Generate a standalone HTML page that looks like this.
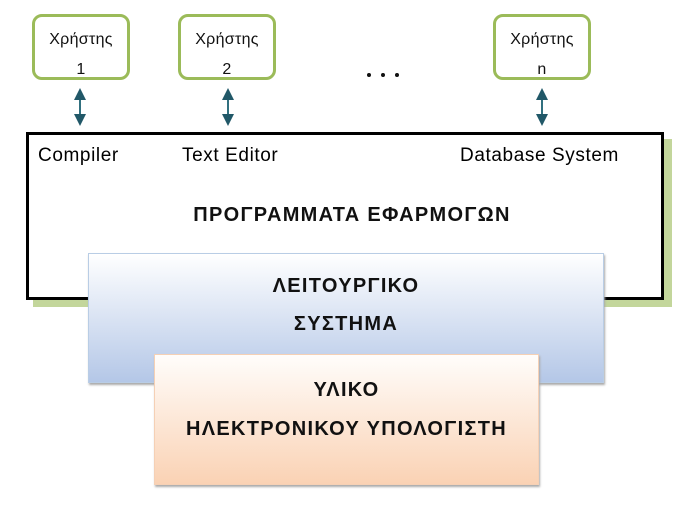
<!DOCTYPE html>
<html><head><meta charset="utf-8"><style>
body{margin:0;width:690px;height:507px;background:#fff;position:relative;overflow:hidden;font-family:"Liberation Sans","DejaVu Sans",sans-serif;}
.a{position:absolute}
.u{position:absolute;width:92px;border:3px solid #9bbb59;border-radius:10px;background:#fff;text-align:center;font-size:16px;line-height:30px;padding-top:8px;height:52px;color:#111;letter-spacing:0.3px}
.t{position:absolute;white-space:nowrap;color:#000;font-size:19px;letter-spacing:0.6px}
.c{position:absolute;text-align:center;font-weight:bold;font-size:20px;letter-spacing:1.3px;color:#111;white-space:nowrap}
</style></head><body>
<div class="u" style="left:32px;top:14px">Χρήστης<br>1</div>
<div class="u" style="left:178px;top:14px">Χρήστης<br>2</div>
<div class="u" style="left:493px;top:14px">Χρήστης<br>n</div>
<svg class="a" style="left:0;top:0" width="690" height="140">
<defs><marker id="m" markerWidth="6" markerHeight="6" refX="3" refY="3" orient="auto-start-reverse"><path d="M0,0L6,3L0,6z" fill="#215868"/></marker></defs>
<g fill="#111"><circle cx="369" cy="75" r="2"/><circle cx="383" cy="75" r="2"/><circle cx="397" cy="75" r="2"/></g>
<g stroke="#31707f" stroke-width="2" marker-start="url(#m)" marker-end="url(#m)">
<line x1="80" y1="94" x2="80" y2="120"/>
<line x1="228" y1="94" x2="228" y2="120"/>
<line x1="542" y1="94" x2="542" y2="120"/>
</g></svg>
<div class="a" style="left:33px;top:139px;width:639px;height:168px;background:#c3d69b"></div>
<div class="a" style="left:26px;top:132px;width:632px;height:162px;border:3px solid #000;background:#fff"></div>
<div class="t" style="left:38px;top:145px">Compiler</div>
<div class="t" style="left:182px;top:145px">Text Editor</div>
<div class="t" style="left:460px;top:145px">Database System</div>
<div class="c" style="left:26px;width:652px;top:204px">ΠΡΟΓΡΑΜΜΑΤΑ ΕΦΑΡΜΟΓΩΝ</div>
<div class="a" style="left:88px;top:253px;width:514px;height:128px;border:1px solid #b9cde5;background:linear-gradient(#fff,#b4c7e7);box-shadow:1px 2px 2px #aaa"></div>
<div class="c" style="left:88px;width:516px;top:275px">ΛΕΙΤΟΥΡΓΙΚΟ</div>
<div class="c" style="left:88px;width:516px;top:313px">ΣΥΣΤΗΜΑ</div>
<div class="a" style="left:154px;top:354px;width:383px;height:129px;border:1px solid #f5d0b5;background:linear-gradient(#fffdfb,#fad2b4);box-shadow:1px 2px 2px #aaa"></div>
<div class="c" style="left:154px;width:385px;top:379px">ΥΛΙΚΟ</div>
<div class="c" style="left:154px;width:385px;top:418px">ΗΛΕΚΤΡΟΝΙΚΟΥ ΥΠΟΛΟΓΙΣΤΗ</div>
</body></html>
